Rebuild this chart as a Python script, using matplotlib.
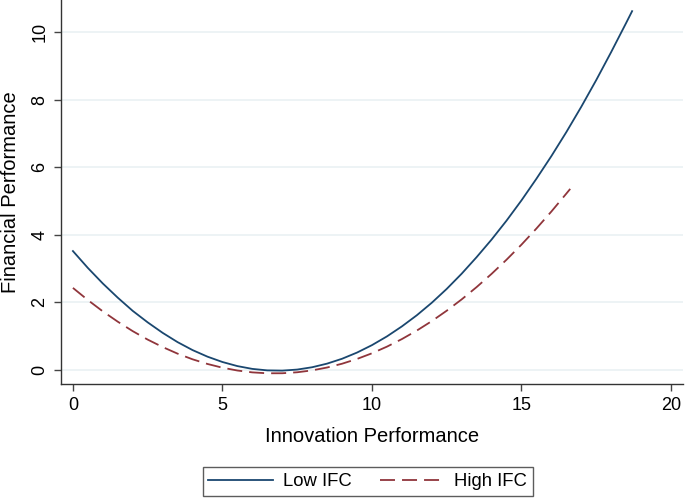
import matplotlib
matplotlib.use("Agg")
import matplotlib.pyplot as plt

plt.rcParams['font.family'] = ['Liberation Sans', 'DejaVu Sans']

# Low IFC curve
low_x = [0, 0.5, 1, 1.5, 2, 2.5, 3, 3.5, 4, 4.5, 5, 5.5, 6, 6.5, 7, 7.5, 8, 8.5, 9, 9.5,
         10, 10.5, 11, 11.5, 12, 12.5, 13, 13.5, 14, 14.5, 15, 15.5, 16, 16.5, 17, 17.5,
         18, 18.5, 18.7]
low_y = [3.52, 3.02, 2.56, 2.14, 1.75, 1.41, 1.10, 0.825, 0.59, 0.395, 0.237, 0.116, 0.033,
         -0.011, -0.018, 0.013, 0.082, 0.189, 0.333, 0.516, 0.736, 0.994, 1.29, 1.62, 1.99,
         2.40, 2.85, 3.34, 3.86, 4.42, 5.02, 5.66, 6.33, 7.04, 7.79, 8.58, 9.41, 10.27, 10.62]

# High IFC curve
high_x = [0, 0.5, 1, 1.5, 2, 2.5, 3, 3.5, 4, 4.5, 5, 5.5, 6, 6.5, 7, 7.5, 8, 8.5, 9, 9.5,
          10, 10.5, 11, 11.5, 12, 12.5, 13, 13.5, 14, 14.5, 15, 15.5, 16, 16.5, 16.63]
high_y = [2.43, 2.07, 1.735, 1.43, 1.15, 0.90, 0.68, 0.484, 0.317, 0.179, 0.068, -0.015,
          -0.07, -0.097, -0.096, -0.067, -0.011, 0.074, 0.186, 0.327, 0.495, 0.691, 0.915,
          1.167, 1.447, 1.755, 2.09, 2.454, 2.845, 3.264, 3.71, 4.187, 4.69, 5.22, 5.36]

x_ticks = [0, 5, 10, 15, 20]
y_ticks = [0, 2, 4, 6, 8, 10]
series_labels = ["Low IFC", "High IFC"]

fig = plt.figure(figsize=(6.85, 5.0), dpi=100)
ax = fig.add_axes([0.089, 0.232, 0.908, 0.768])

for yt in y_ticks:
    ax.axhline(yt, color='#eaf1f3', lw=1.2, zorder=0)

ax.plot(low_x, low_y, color='#1a476f', lw=1.3, label=series_labels[0], zorder=3)
ax.plot(high_x, high_y, color='#90353b', lw=1.3, dashes=(8.3, 3.9), label=series_labels[1], zorder=3)

ax.set_xlim(-0.4, 20.4)
ax.set_ylim(-0.414, 10.95)
ax.set_xticks(x_ticks)
ax.set_yticks(y_ticks)
ax.set_yticklabels([str(t) for t in y_ticks], rotation=90, va='center')
ax.tick_params(axis='both', labelsize=13, length=5, width=1, color='#444444', pad=4)

for s in ['top', 'right']:
    ax.spines[s].set_visible(False)
for s in ['left', 'bottom']:
    ax.spines[s].set_color('#333333')
    ax.spines[s].set_linewidth(1)

ax.set_xlabel('Innovation Performance', fontsize=14.5, labelpad=10)
ax.set_ylabel('Financial Performance', fontsize=14.5, labelpad=8)

leg = fig.legend(loc='center', bbox_to_anchor=(0.537, 0.037), ncol=2, fontsize=13.3,
                 frameon=True, fancybox=False, edgecolor='#333333', handlelength=3.5,
                 columnspacing=1.5, borderpad=0.3, handletextpad=0.55, borderaxespad=0)
leg.get_frame().set_linewidth(1)

fig.savefig('out.png', dpi=100)
